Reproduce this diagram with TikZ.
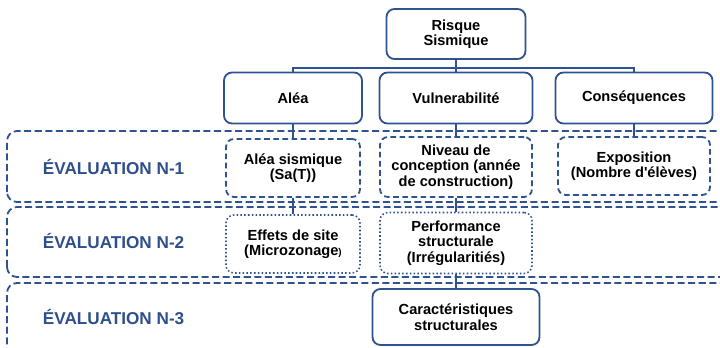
\documentclass[tikz,border=0pt]{standalone}
\usepackage{fontspec}
\setmainfont{Liberation Sans}
\usepackage{xcolor}
\usepackage{tikz}
\usetikzlibrary{positioning}

\definecolor{boxblue}{HTML}{2F5290}
\definecolor{labelblue}{HTML}{2E4F8C}

\begin{document}
\begin{tikzpicture}[
        node distance=1.6cm,
        box/.style={rectangle, rounded corners=0.2cm, draw=boxblue, line width=1.3pt, fill=white,
            minimum height=1.275cm, align=center, font=\fontsize{10.4}{11}\selectfont\bfseries},
        dashbox/.style={box, dash pattern=on 4pt off 2.5pt, minimum height=1.45cm},
        dotbox/.style={box, line width=1.1pt, dash pattern=on 1.1pt off 1.6pt, minimum height=1.45cm},
        band/.style={draw=boxblue, line width=1.3pt, dash pattern=on 5pt off 2.5pt, rounded corners=0.25cm},
        evallabel/.style={text=labelblue, font=\fontsize{12.2}{13}\selectfont\bfseries},
        link/.style={draw=boxblue, line width=1.3pt}
    ]
        \useasboundingbox (0,0) rectangle (18,8.675);

        % Evaluation bands
        \draw [band] (0.175,3.625) rectangle (18.5,5.4);
        \draw [band] (0.175,1.75) rectangle (18.5,3.5);
        \draw [band] (0.175,-1.5) rectangle (18.5,1.6);
        \node (eval1) [evallabel] at (2.84,4.5) {ÉVALUATION N-1};
        \node (eval2) [evallabel] at (2.84,2.65) {ÉVALUATION N-2};
        \node (eval3) [evallabel] at (2.84,0.75) {ÉVALUATION N-3};

        % Top of the tree
        \node (risque) [box, minimum width=3.475cm, minimum height=1.25cm] at (11.4,7.825) {Risque\\Sismique};
        \node (vuln) [box, minimum width=3.825cm, below of=risque] {Vulnerabilité};
        \node (alea) [box, minimum width=3.45cm, left of=vuln, xshift=-2.475cm] {Aléa};
        \node (cons) [box, minimum width=3.925cm, right of=vuln, xshift=2.85cm] {Conséquences};

        % Level N-1
        \node (sismique) [dashbox, minimum width=3.35cm, below of=alea, yshift=-0.15cm] {Aléa sismique\\(Sa(T))};
        \node (niveau) [dashbox, minimum width=3.8cm, minimum height=1.5cm, below of=vuln, yshift=-0.125cm] {Niveau de\\conception (année\\de construction)};
        \node (expo) [dashbox, minimum width=3.8cm, below of=cons, yshift=-0.1cm] {Exposition\\(Nombre d\textquotesingle élèves)};

        % Level N-2
        \node (effets) [dotbox, minimum width=3.35cm, below of=sismique, yshift=-0.3cm] {Effets de site\\(Microzonage{\scriptsize )}};
        \node (perf) [dotbox, minimum width=3.8cm, minimum height=1.525cm, below of=niveau, yshift=-0.3cm] {Performance\\structurale\\(Irrégularitiés)};

        % Level N-3
        \node (carac) [box, minimum width=4.175cm, minimum height=1.4cm, below of=perf, yshift=-0.25cm] {Caractéristiques\\structurales};

        % Connect the tree
        \draw [link] (risque.south) -- ++(0,-0.2) -| (alea.north);
        \draw [link] (risque.south) -- ++(0,-0.2) -| (cons.north);
        \draw [link] (risque) -- (vuln);
        \draw [link] (alea) -- (sismique);
        \draw [link] (sismique) -- (effets);
        \draw [link] (vuln) -- (niveau);
        \draw [link] (niveau) -- (perf);
        \draw [link] (perf) -- (carac);
        \draw [link] (cons) -- (expo);
    \end{tikzpicture}
\end{document}
